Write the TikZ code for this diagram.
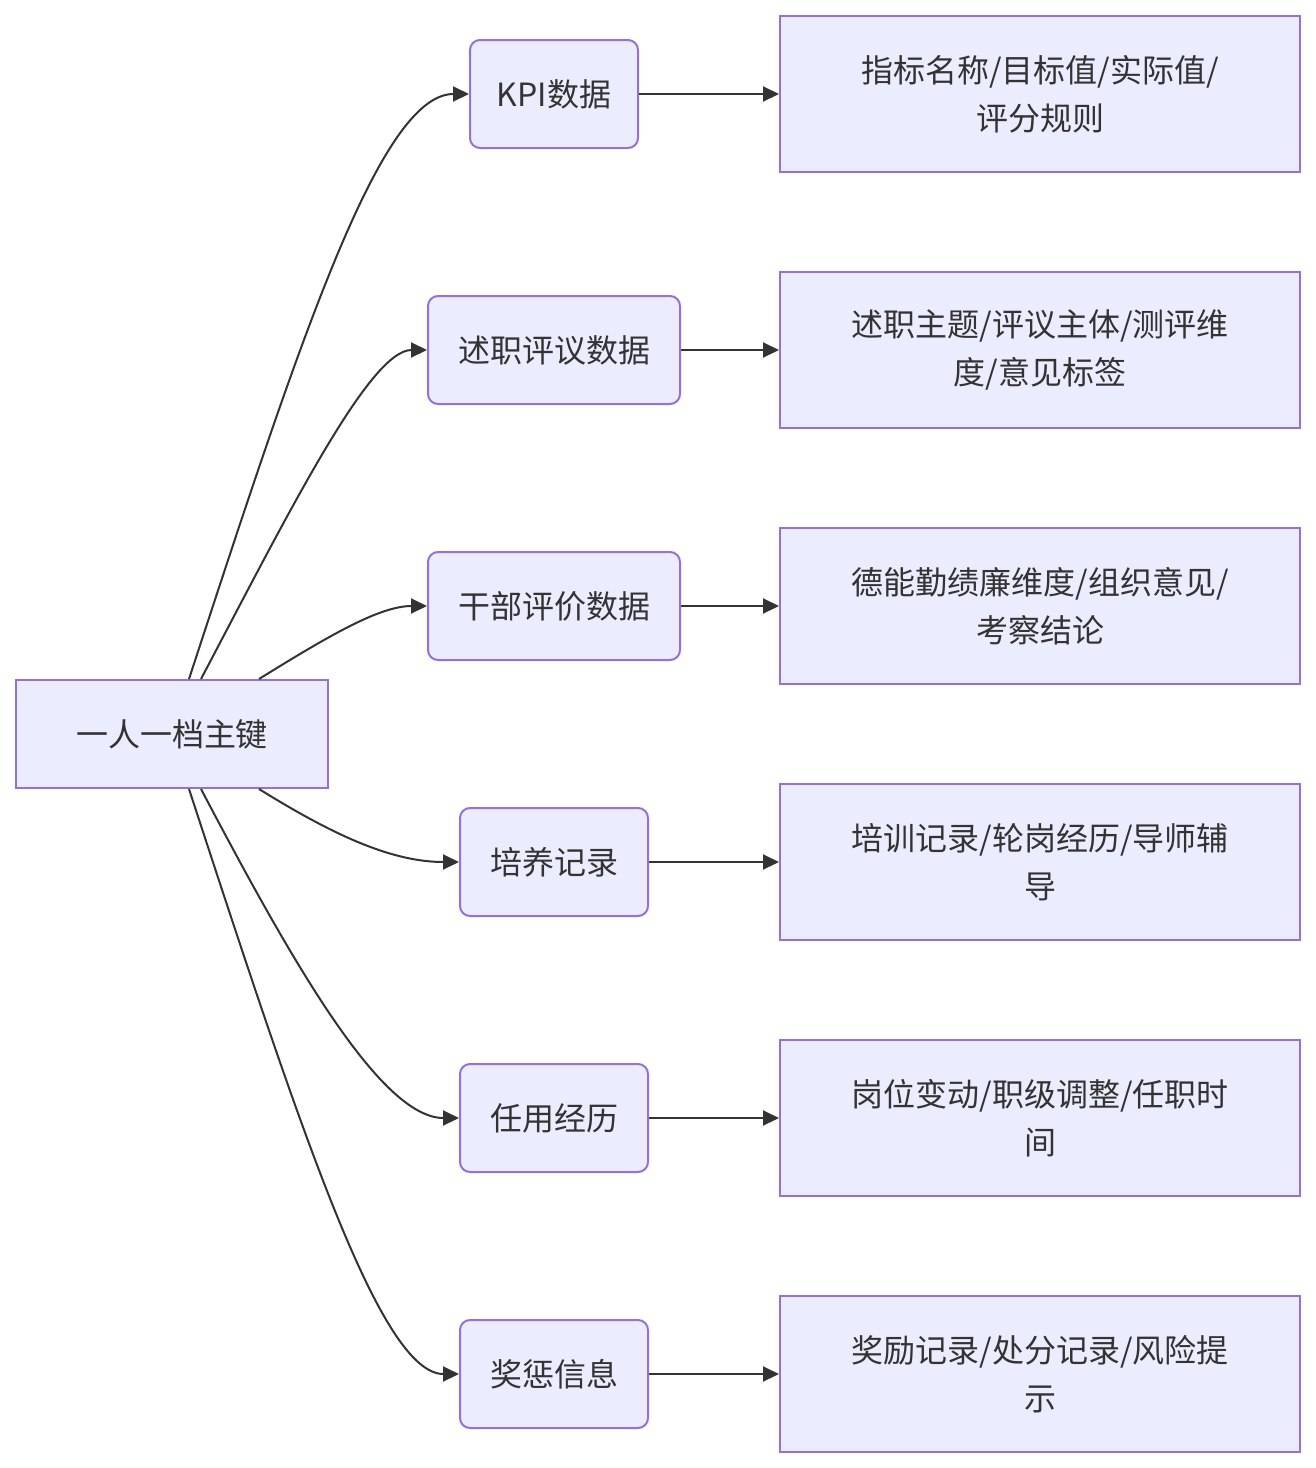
\documentclass[tikz,border=0pt]{standalone}
\usepackage{fontspec}
\setmainfont{Noto Sans CJK SC}
\usetikzlibrary{arrows.meta}
\definecolor{nodefill}{HTML}{ECECFF}
\definecolor{nodeline}{HTML}{9370DB}
\definecolor{inkc}{HTML}{333333}
\tikzset{
  base/.style={draw=nodeline, fill=nodefill, line width=2pt, text=inkc, inner sep=0pt,
    minimum height=108pt, align=center, font=\fontsize{32}{48}\selectfont},
  rootbox/.style={base, minimum width=312pt},
  midbox/.style={base, rounded corners=10pt},
  leafbox/.style={base, minimum width=520pt, minimum height=156pt},
  edge/.style={draw=inkc, line width=2pt, -{Triangle[length=16pt,width=15pt]}},
}
\begin{document}
\begin{tikzpicture}[x=1pt,y=-1pt]
\useasboundingbox (0,0) rectangle (1316,1468);
\node[rootbox] (root) at (172,734) {一人一档主键};

\node[midbox, minimum width=168pt] (kpi) at (554,94) {KPI数据};
\node[midbox, minimum width=252pt] (shuzhi) at (554,350) {述职评议数据};
\node[midbox, minimum width=252pt] (ganbu) at (554,606) {干部评价数据};
\node[midbox, minimum width=188pt] (peiyang) at (554,862) {培养记录};
\node[midbox, minimum width=188pt] (renyong) at (554,1118) {任用经历};
\node[midbox, minimum width=188pt] (jiangcheng) at (554,1374) {奖惩信息};

\node[leafbox] (l1) at (1040,94) {指标名称/目标值/实际值/\\评分规则};
\node[leafbox] (l2) at (1040,350) {述职主题/评议主体/测评维\\度/意见标签};
\node[leafbox] (l3) at (1040,606) {德能勤绩廉维度/组织意见/\\考察结论};
\node[leafbox] (l4) at (1040,862) {培训记录/轮岗经历/导师辅\\导};
\node[leafbox] (l5) at (1040,1118) {岗位变动/职级调整/任职时\\间};
\node[leafbox] (l6) at (1040,1374) {奖励记录/处分记录/风险提\\示};

\draw[edge] ([xshift=174pt]root.north west) .. controls (300,340) and (380,94) .. (kpi.west);
\draw[edge] ([xshift=186pt]root.north west) .. controls (290,510) and (370,350) .. (shuzhi.west);
\draw[edge] ([xshift=244pt]root.north west) .. controls (330,635) and (380,606) .. (ganbu.west);
\draw[edge] ([xshift=244pt]root.south west) .. controls (330,833) and (390,862) .. (peiyang.west);
\draw[edge] ([xshift=186pt]root.south west) .. controls (290,958) and (380,1118) .. (renyong.west);
\draw[edge] ([xshift=174pt]root.south west) .. controls (300,1128) and (380,1374) .. (jiangcheng.west);

\draw[edge] (kpi.east) -- (l1.west);
\draw[edge] (shuzhi.east) -- (l2.west);
\draw[edge] (ganbu.east) -- (l3.west);
\draw[edge] (peiyang.east) -- (l4.west);
\draw[edge] (renyong.east) -- (l5.west);
\draw[edge] (jiangcheng.east) -- (l6.west);
\end{tikzpicture}
\end{document}
